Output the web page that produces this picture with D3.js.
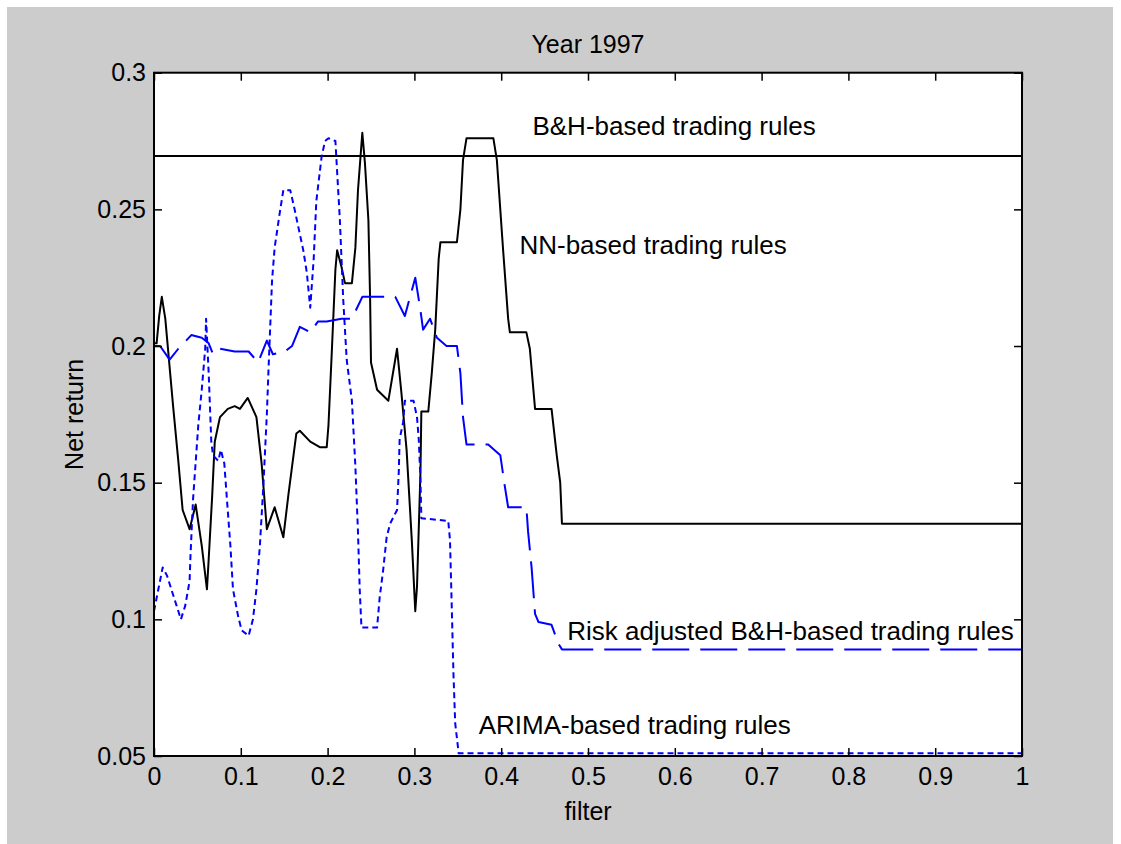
<!DOCTYPE html>
<html>
<head>
<meta charset="utf-8">
<script src="https://cdn.jsdelivr.net/npm/d3@7"></script>
<style>
	body {margin: 0; background: #ffffff;}
	text {font-family: "Liberation Sans", Arial, Helvetica, sans-serif; fill: #000000;}
</style>
</head>
<body>
<div id="chart"></div>
<script>

//DATA
var title = "Year 1997";
var xLabel = "filter";
var yLabel = "Net return";

var xTicks = [0, 0.1, 0.2, 0.3, 0.4, 0.5, 0.6, 0.7, 0.8, 0.9, 1];
var xTickLabels = ["0", "0.1", "0.2", "0.3", "0.4", "0.5", "0.6", "0.7", "0.8", "0.9", "1"];
var yTicks = [0.05, 0.1, 0.15, 0.2, 0.25, 0.3];
var yTickLabels = ["0.05", "0.1", "0.15", "0.2", "0.25", "0.3"];

var bhFilter = [0, 1];
var bhReturn = [0.2695, 0.2695];

var nnFilter = [0, 0.003, 0.006, 0.009, 0.013, 0.022, 0.028, 0.033, 0.041, 0.048, 0.055, 0.061, 0.063, 0.067, 0.070, 0.076, 0.085, 0.093, 0.099, 0.108, 0.118, 0.124, 0.128, 0.130, 0.139, 0.149, 0.155, 0.164, 0.168, 0.180, 0.191, 0.199, 0.201, 0.205, 0.209, 0.211, 0.216, 0.220, 0.228, 0.232, 0.235, 0.240, 0.243, 0.247, 0.249, 0.250, 0.257, 0.270, 0.280, 0.285, 0.291, 0.297, 0.301, 0.303, 0.307, 0.308, 0.316, 0.320, 0.324, 0.328, 0.330, 0.349, 0.353, 0.356, 0.360, 0.391, 0.395, 0.402, 0.408, 0.410, 0.429, 0.433, 0.439, 0.458, 0.464, 0.468, 0.470, 1];
var nnReturn = [0.201, 0.201, 0.211, 0.218, 0.210, 0.178, 0.158, 0.140, 0.133, 0.142, 0.127, 0.111, 0.122, 0.145, 0.165, 0.174, 0.177, 0.178, 0.177, 0.181, 0.174, 0.157, 0.141, 0.133, 0.141, 0.130, 0.146, 0.168, 0.169, 0.165, 0.163, 0.163, 0.171, 0.199, 0.228, 0.235, 0.229, 0.223, 0.223, 0.236, 0.257, 0.278, 0.267, 0.246, 0.217, 0.194, 0.184, 0.180, 0.199, 0.183, 0.162, 0.129, 0.103, 0.112, 0.154, 0.176, 0.176, 0.190, 0.206, 0.232, 0.238, 0.238, 0.250, 0.268, 0.276, 0.276, 0.268, 0.236, 0.210, 0.205, 0.205, 0.199, 0.177, 0.177, 0.160, 0.150, 0.135, 0.135];

var riskFilter = [0, 0.007, 0.018, 0.028, 0.043, 0.055, 0.063, 0.068, 0.076, 0.093, 0.109, 0.120, 0.130, 0.137, 0.151, 0.159, 0.168, 0.180, 0.189, 0.199, 0.216, 0.228, 0.240, 0.257, 0.278, 0.289, 0.301, 0.307, 0.310, 0.318, 0.326, 0.337, 0.349, 0.353, 0.356, 0.360, 0.385, 0.399, 0.404, 0.408, 0.429, 0.431, 0.435, 0.439, 0.443, 0.458, 0.466, 0.470, 1];
var riskReturn = [0.200, 0.200, 0.195, 0.199, 0.204, 0.203, 0.201, 0.197, 0.199, 0.198, 0.198, 0.194, 0.202, 0.197, 0.198, 0.200, 0.207, 0.205, 0.209, 0.209, 0.210, 0.210, 0.218, 0.218, 0.218, 0.211, 0.225, 0.213, 0.206, 0.210, 0.203, 0.200, 0.200, 0.190, 0.174, 0.164, 0.164, 0.160, 0.149, 0.141, 0.141, 0.132, 0.119, 0.102, 0.099, 0.098, 0.091, 0.089, 0.089];

var arimaFilter = [0, 0.005, 0.010, 0.015, 0.020, 0.026, 0.031, 0.036, 0.041, 0.042, 0.045, 0.051, 0.055, 0.059, 0.060, 0.063, 0.066, 0.068, 0.074, 0.077, 0.081, 0.084, 0.088, 0.091, 0.097, 0.101, 0.109, 0.114, 0.118, 0.122, 0.126, 0.130, 0.132, 0.136, 0.139, 0.145, 0.149, 0.157, 0.162, 0.166, 0.172, 0.176, 0.180, 0.184, 0.187, 0.193, 0.197, 0.201, 0.209, 0.212, 0.214, 0.216, 0.218, 0.222, 0.228, 0.232, 0.235, 0.237, 0.239, 0.257, 0.260, 0.264, 0.268, 0.272, 0.280, 0.282, 0.283, 0.287, 0.289, 0.299, 0.303, 0.305, 0.307, 0.308, 0.339, 0.341, 0.343, 0.345, 0.347, 0.351, 1];
var arimaReturn = [0.103, 0.111, 0.119, 0.116, 0.111, 0.105, 0.100, 0.105, 0.114, 0.123, 0.144, 0.171, 0.184, 0.199, 0.210, 0.190, 0.165, 0.160, 0.158, 0.162, 0.157, 0.144, 0.127, 0.111, 0.101, 0.096, 0.094, 0.100, 0.111, 0.127, 0.149, 0.175, 0.192, 0.224, 0.236, 0.249, 0.257, 0.257, 0.250, 0.244, 0.235, 0.227, 0.214, 0.232, 0.253, 0.269, 0.275, 0.276, 0.275, 0.258, 0.247, 0.232, 0.217, 0.195, 0.180, 0.156, 0.132, 0.111, 0.097, 0.097, 0.108, 0.118, 0.130, 0.135, 0.140, 0.154, 0.166, 0.172, 0.180, 0.180, 0.174, 0.166, 0.151, 0.137, 0.136, 0.129, 0.105, 0.080, 0.062, 0.051, 0.051];

//SERIES NAMES, AND WHERE THEIR NOTE SITS (IN DATA UNITS)
var seriesNames = ["B&H-based trading rules", "NN-based trading rules", "Risk adjusted B&H-based trading rules", "ARIMA-based trading rules"];
var noteFilter = [0.436, 0.421, 0.476, 0.374];
var noteReturn = [0.2771, 0.2336, 0.0926, 0.0579];


function zip(xs, ys){
	return xs.map(function(x, i){
		return {"x": x, "y": ys[i]};
	});
}//zip


function chart(params){
	var W = 1121;
	var H = 844;
	var margin = {"left": 154, "top": 72.7, "right": W - 1022, "bottom": H - 756};
	var TICK = 8;

	var svg = d3.select("#" + params.target)
		.append("svg")
		.attr("width", W)
		.attr("height", H)
		;

	//FIGURE BACKGROUND
	svg.append("rect")
		.attr("x", 7)
		.attr("y", 7)
		.attr("width", 1106)
		.attr("height", H - 7)
		.attr("fill", "#cccccc");

	var x = d3.scaleLinear().domain([0, 1]).range([margin.left, W - margin.right]);
	var y = d3.scaleLinear().domain([0.05, 0.3]).range([H - margin.bottom, margin.top]);

	var x0 = x.range()[0], x1 = x.range()[1];
	var y0 = y.range()[1], y1 = y.range()[0];

	//AXES AREA
	svg.append("rect")
		.attr("x", x0)
		.attr("y", y0)
		.attr("width", x1 - x0)
		.attr("height", y1 - y0)
		.attr("fill", "#ffffff");

	svg.append("clipPath")
		.attr("id", "plot-clip")
		.append("rect")
		.attr("x", x0)
		.attr("y", y0 - 1)
		.attr("width", x1 - x0)
		.attr("height", y1 - y0 + 1);

	var line = d3.line()
		.x(function(d){return x(d.x);})
		.y(function(d){return y(d.y);});

	var plot = svg.append("g").attr("clip-path", "url(#plot-clip)");

	params.series.forEach(function(s){
		plot.append("path")
			.datum(s.data)
			.attr("d", line)
			.attr("fill", "none")
			.attr("stroke", s.color)
			.attr("stroke-width", 2)
			.attr("stroke-dasharray", s.dash)
			.attr("stroke-linejoin", "round");
	});

	//TICKS ON ALL FOUR SIDES, POINTING IN (MATLAB BOX ON)
	var axes = [
		{"axis": d3.axisBottom(x).tickValues(params.xTicks).tickFormat(function(d, i){return params.xTickLabels[i];}), "at": "translate(0," + y1 + ")", "pad": 11},
		{"axis": d3.axisTop(x).tickValues(params.xTicks).tickFormat(""), "at": "translate(0," + y0 + ")", "pad": 0},
		{"axis": d3.axisLeft(y).tickValues(params.yTicks).tickFormat(function(d, i){return params.yTickLabels[i];}), "at": "translate(" + x0 + ",0)", "pad": 8},
		{"axis": d3.axisRight(y).tickValues(params.yTicks).tickFormat(""), "at": "translate(" + x1 + ",0)", "pad": 0}
	];
	axes.forEach(function(a){
		var g = svg.append("g")
			.attr("transform", a.at)
			.call(a.axis.tickSizeInner(-TICK).tickSizeOuter(0).tickPadding(a.pad));
		g.select(".domain").remove();
		g.selectAll(".tick line").attr("stroke", "#000000").attr("stroke-width", 1.5);
		g.selectAll(".tick text")
			.attr("fill", "#000000")
			.style("font-size", "25px")
			.style("font-family", "'Liberation Sans', Arial, sans-serif");
	});

	//BOX
	svg.append("rect")
		.attr("x", x0)
		.attr("y", y0)
		.attr("width", x1 - x0)
		.attr("height", y1 - y0)
		.attr("fill", "none")
		.attr("stroke", "#000000")
		.attr("stroke-width", 2);

	//TITLE AND AXIS LABELS
	var cx = (x0 + x1) / 2;
	svg.append("text")
		.attr("x", cx)
		.attr("y", 53)
		.attr("text-anchor", "middle")
		.style("font-size", "25px")
		.text(params.title);

	svg.append("text")
		.attr("x", cx)
		.attr("y", 820)
		.attr("text-anchor", "middle")
		.style("font-size", "25px")
		.text(params.xLabel);

	svg.append("text")
		.attr("transform", "translate(83," + ((y0 + y1) / 2) + ") rotate(-90)")
		.attr("text-anchor", "middle")
		.style("font-size", "25px")
		.text(params.yLabel);

	//NOTES ON THE LINES
	params.notes.forEach(function(n){
		svg.append("text")
			.attr("x", x(n.x))
			.attr("y", y(n.y))
			.style("font-size", "26px")
			.text(n.text);
	});
}//chart


chart({
	"target": "chart",
	"title": title,
	"xLabel": xLabel,
	"yLabel": yLabel,
	"xTicks": xTicks,
	"xTickLabels": xTickLabels,
	"yTicks": yTicks,
	"yTickLabels": yTickLabels,
	"series": [
		{"data": zip(bhFilter, bhReturn), "color": "#000000", "dash": null},
		{"data": zip(nnFilter, nnReturn), "color": "#000000", "dash": null},
		{"data": zip(riskFilter, riskReturn), "color": "#0000ff", "dash": "37,11"},
		{"data": zip(arimaFilter, arimaReturn), "color": "#0000ff", "dash": "6,4"}
	],
	"notes": seriesNames.map(function(t, i){
		return {"text": t, "x": noteFilter[i], "y": noteReturn[i]};
	})
});

</script>
</body>
</html>
